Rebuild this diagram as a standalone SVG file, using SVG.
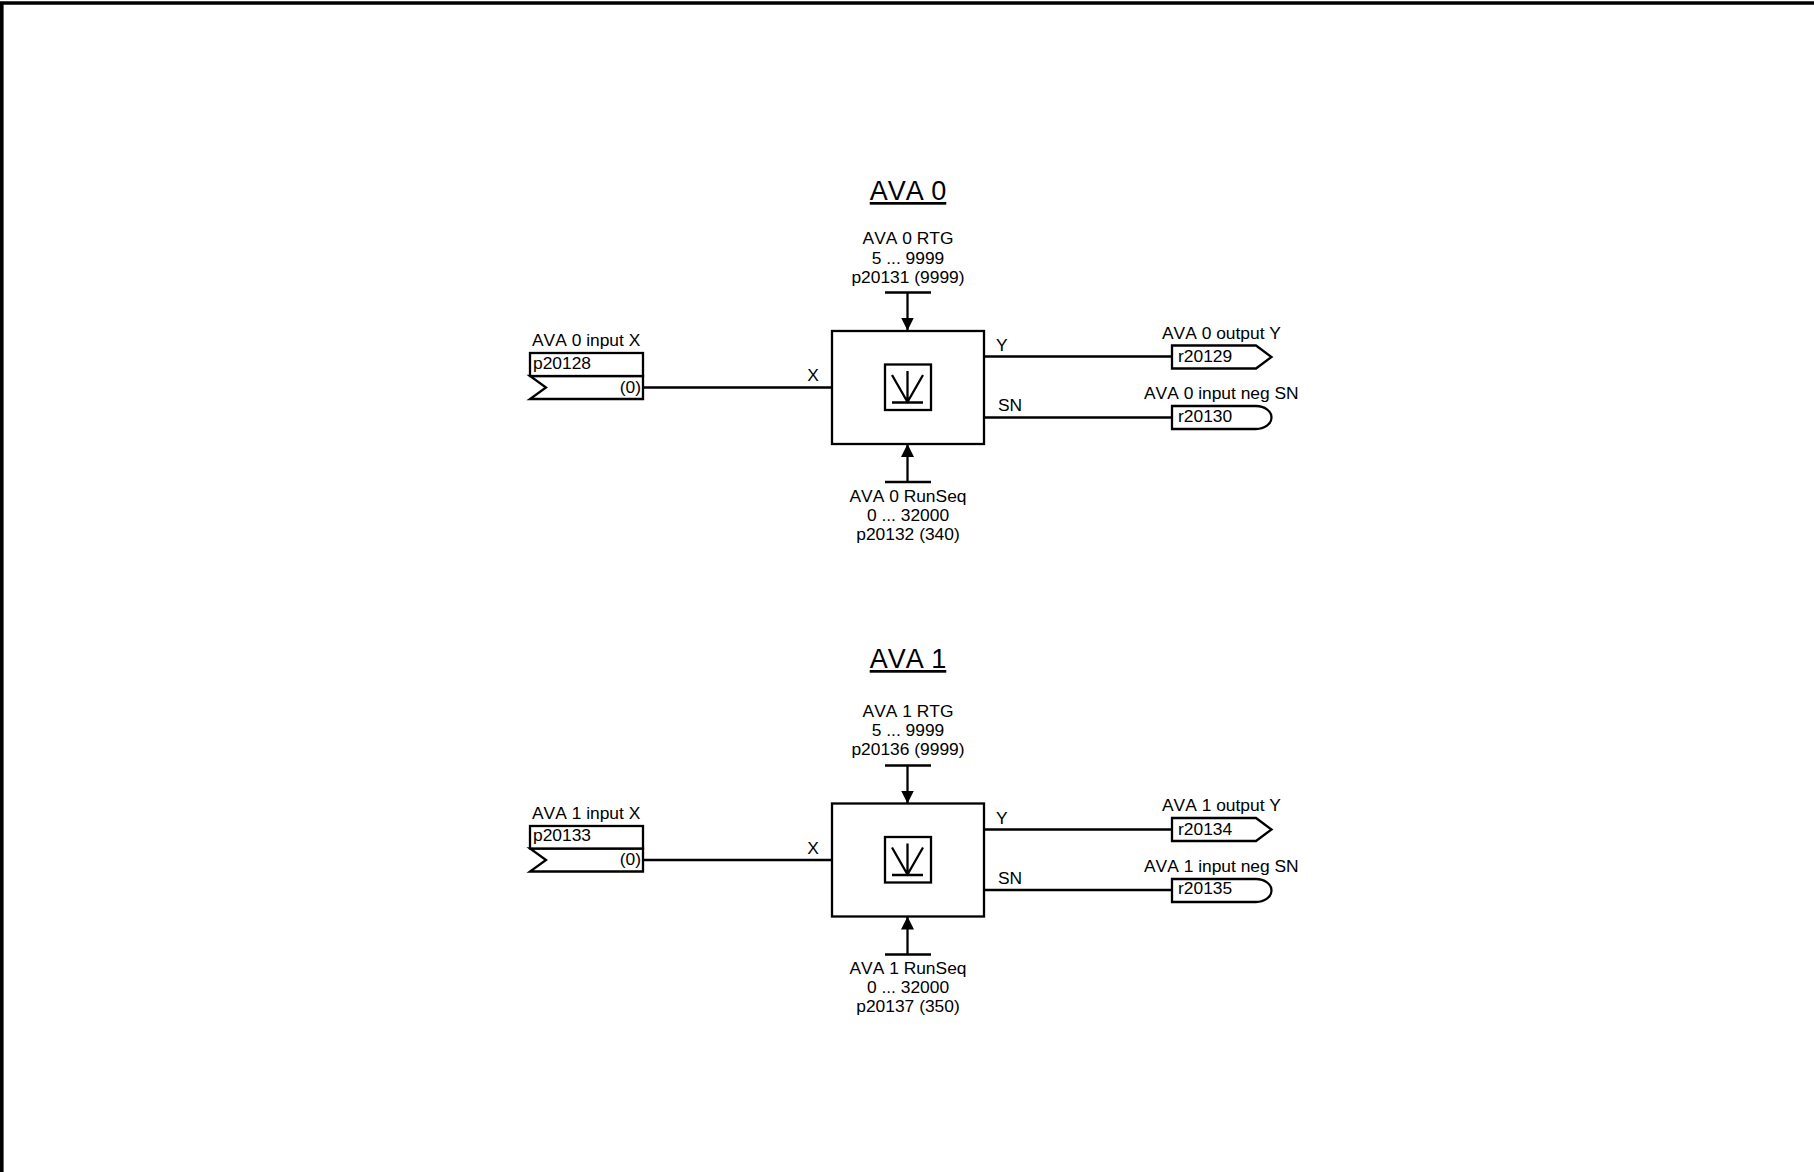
<svg xmlns="http://www.w3.org/2000/svg" width="1814" height="1172" viewBox="0 0 1814 1172">
<style>
text{font-family:"Liberation Sans",Arial,sans-serif;font-size:17.4px;fill:#000;font-kerning:none}
.m{text-anchor:middle}.e{text-anchor:end}
.t{font-size:27px;text-decoration:underline}
.s{fill:#fff;stroke:#000;stroke-width:2.3}
.l{fill:none;stroke:#000;stroke-width:2.3}
.th{fill:none;stroke:#000;stroke-width:2.3}
</style>
<defs>
<marker id="ah" markerUnits="userSpaceOnUse" markerWidth="13" markerHeight="13" refX="13" refY="6.5" orient="auto"><path d="M0 0L13 6.500L0 13Z"/></marker>
</defs>
<rect width="1814" height="1172" fill="#fff"/>
<path d="M1.800 1172V3H1814" fill="none" stroke="#000" stroke-width="3.600"/>
<g id="connectors">
<path class="l" d="M643 387.500H832M983.500 356.500H1172M983.500 417.500H1172M885 292.500H931M885 482H931"/>
<path class="l" d="M907.500 292.500V330.500" marker-end="url(#ah)"/>
<path class="l" d="M907.500 482V444" marker-end="url(#ah)"/>
<path class="l" d="M643 860H832M983.500 829.500H1172M983.500 890H1172M885 765.500H931M885 954.500H931"/>
<path class="l" d="M907.500 765.500V803.500" marker-end="url(#ah)"/>
<path class="l" d="M907.500 954.500V916.500" marker-end="url(#ah)"/>
</g>
<g id="title0"><text class="t m" x="908" y="200">AVA 0</text></g>
<g id="block0">
<rect class="s" x="832" y="331" width="152" height="113"/>
<rect class="s" x="885" y="364.500" width="46" height="45.500"/>
<path class="th" d="M892 375L907.500 402L923 375M907.500 371V402M892 402.500H923"/>
<text class="m" x="813" y="381">X</text>
<text x="996" y="351">Y</text>
<text x="998" y="411">SN</text>
</g>
<g id="rtg0"><text class="m" x="908" y="244">AVA 0 RTG</text><text class="m" x="908" y="264">5 ... 9999</text><text class="m" x="908" y="283">p20131 (9999)</text></g>
<g id="runseq0"><text class="m" x="908" y="502">AVA 0 RunSeq</text><text class="m" x="908" y="521">0 ... 32000</text><text class="m" x="908" y="540">p20132 (340)</text></g>
<g id="input0">
<path class="s" d="M530 376H643V399H530L546 387.500Z"/>
<rect class="s" x="530" y="353" width="113" height="23"/>
<text x="532" y="346">AVA 0 input X</text>
<text x="533" y="369">p20128</text>
<text class="e" x="641" y="393">(0)</text>
</g>
<g id="outY0">
<path class="s" d="M1172 345.500H1256L1271.500 357L1256 368.500H1172Z"/>
<text x="1162" y="339">AVA 0 output Y</text>
<text x="1178" y="362">r20129</text>
</g>
<g id="outSN0">
<path class="s" d="M1172 406H1256A15.500 11.500 0 0 1 1256 429H1172Z"/>
<text x="1144" y="399">AVA 0 input neg SN</text>
<text x="1178" y="422">r20130</text>
</g>
<g id="title1"><text class="t m" x="908" y="668">AVA 1</text></g>
<g id="block1">
<rect class="s" x="832" y="803.500" width="152" height="113"/>
<rect class="s" x="885" y="837" width="46" height="45.500"/>
<path class="th" d="M892 847.500L907.500 874.500L923 847.500M907.500 843.500V874.500M892 875H923"/>
<text class="m" x="813" y="854">X</text>
<text x="996" y="824">Y</text>
<text x="998" y="884">SN</text>
</g>
<g id="rtg1"><text class="m" x="908" y="717">AVA 1 RTG</text><text class="m" x="908" y="736">5 ... 9999</text><text class="m" x="908" y="755">p20136 (9999)</text></g>
<g id="runseq1"><text class="m" x="908" y="974">AVA 1 RunSeq</text><text class="m" x="908" y="993">0 ... 32000</text><text class="m" x="908" y="1012">p20137 (350)</text></g>
<g id="input1">
<path class="s" d="M530 848.500H643V871.500H530L546 860Z"/>
<rect class="s" x="530" y="826" width="113" height="22.500"/>
<text x="532" y="819">AVA 1 input X</text>
<text x="533" y="841">p20133</text>
<text class="e" x="641" y="865">(0)</text>
</g>
<g id="outY1">
<path class="s" d="M1172 818H1256L1271.500 829.500L1256 841H1172Z"/>
<text x="1162" y="811">AVA 1 output Y</text>
<text x="1178" y="835">r20134</text>
</g>
<g id="outSN1">
<path class="s" d="M1172 879H1256A15.500 11.500 0 0 1 1256 902H1172Z"/>
<text x="1144" y="872">AVA 1 input neg SN</text>
<text x="1178" y="894">r20135</text>
</g>
</svg>
